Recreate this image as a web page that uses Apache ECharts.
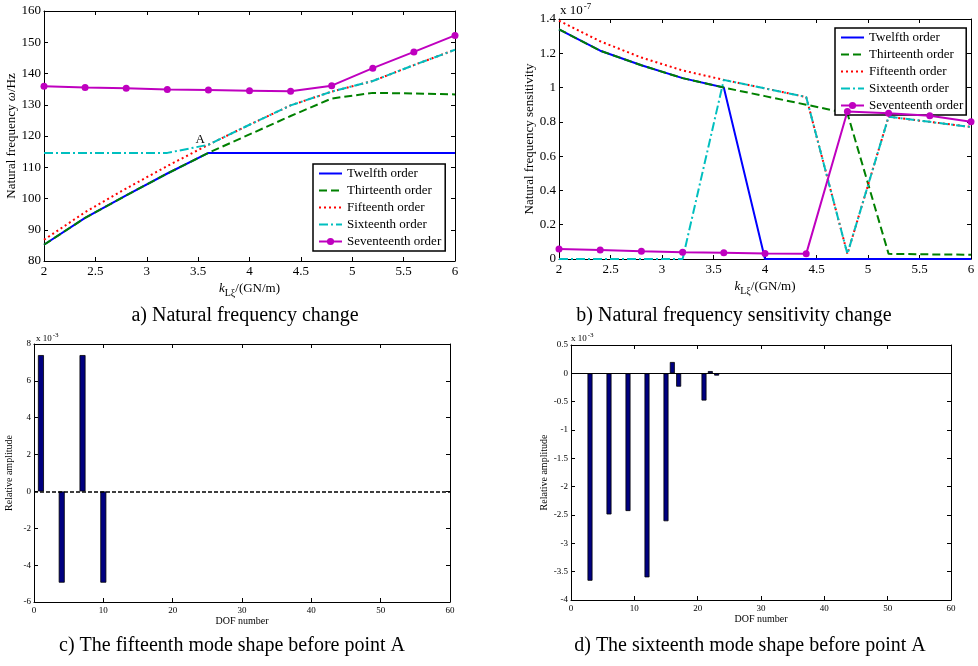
<!DOCTYPE html>
<html>
<head>
<meta charset="utf-8">
<script src="https://cdn.jsdelivr.net/npm/echarts@6/dist/echarts.min.js"></script>
<style>
  html, body { margin: 0; padding: 0; background: #fff; }
  #main { width: 978px; height: 666px; }
</style>
</head>
<body>
<div id="main"></div>
<script>
// stiffness k (GN/m), shared by charts a and b
var kValues = [2, 2.4, 2.8, 3.2, 3.6, 4, 4.4, 4.8, 5.2, 5.6, 6];

// a) natural frequency (Hz)
var freq12 = [85.2, 93.8, 101.0, 108.0, 114.6, 114.6, 114.6, 114.6, 114.6, 114.6, 114.6];
var freq13 = [85.2, 93.8, 101.0, 108.0, 114.6, 120.5, 126.4, 132.0, 133.8, 133.6, 133.3];
var freq15 = [86.8, 95.6, 103.2, 110.4, 117.2, 123.6, 129.8, 134.2, 137.6, 142.7, 147.6];
var freq16 = [114.6, 114.6, 114.6, 114.6, 117.2, 123.6, 129.8, 134.2, 137.6, 142.7, 147.6];
var freq17 = [135.9, 135.5, 135.3, 134.9, 134.7, 134.5, 134.3, 136.1, 141.7, 146.9, 152.2];

// b) natural frequency sensitivity (x 1e-7)
var sens12 = [1.34, 1.215, 1.13, 1.055, 1.0, 0, 0, 0, 0, 0, 0];
var sens13 = [1.34, 1.215, 1.13, 1.055, 1.0, 0.95, 0.9, 0.85, 0.03, 0.027, 0.025];
var sens15 = [1.39, 1.27, 1.175, 1.1, 1.045, 0.995, 0.945, 0.03, 0.83, 0.8, 0.77];
var sens16 = [0, 0, 0, 0, 1.045, 0.995, 0.945, 0.03, 0.83, 0.8, 0.77];
var sens17 = [0.058, 0.052, 0.045, 0.04, 0.036, 0.032, 0.03, 0.86, 0.85, 0.835, 0.8];

// c) fifteenth mode shape (x 1e-3)
var dofC = [1, 4, 7, 10];
var ampC = [7.4, -4.95, 7.4, -4.95];

// d) sixteenth mode shape (x 1e-3)
var dofD = [3, 6, 9, 12, 15, 16, 17, 21, 22, 23];
var ampD = [-3.66, -2.49, -2.43, -3.6, -2.61, 0.2, -0.235, -0.48, 0.04, -0.04];

var orderNames = ["Twelfth order", "Thirteenth order", "Fifteenth order", "Sixteenth order", "Seventeenth order"];

var SERIF = "'Liberation Serif', 'DejaVu Serif', serif";

function pairs(xs, ys) {
  return xs.map(function (x, i) { return [x, ys[i]]; });
}

var lineStyles = [
  { color: "#0000ff", width: 2, type: "solid" },
  { color: "#008000", width: 2, type: [8, 4] },
  { color: "#ff0000", width: 2, type: [2, 3] },
  { color: "#00bfbf", width: 2, type: [9, 3, 2, 3] },
  { color: "#bf00bf", width: 2, type: "solid" }
];

function orderSeries(gridIdx, lists, extra) {
  return lists.map(function (ys, i) {
    var s = {
      name: orderNames[i],
      type: "line",
      xAxisIndex: gridIdx,
      yAxisIndex: gridIdx,
      data: pairs(kValues, ys),
      symbol: i === 4 ? "circle" : "none",
      symbolSize: 7,
      itemStyle: { color: lineStyles[i].color },
      lineStyle: lineStyles[i],
      animation: false,
      z: 2 + i
    };
    if (extra && extra[i]) Object.assign(s, extra[i]);
    return s;
  });
}

function bottomX(gridIdx, min, max, interval, fontSize, name, nameGap, nameStyle) {
  return {
    type: "value", gridIndex: gridIdx, min: min, max: max, interval: interval,
    position: "bottom",
    axisLine: { onZero: false, lineStyle: { color: "#000", width: 1 } },
    axisTick: { inside: true, length: 4, lineStyle: { color: "#000" } },
    axisLabel: { color: "#000", fontFamily: SERIF, fontSize: fontSize, margin: 4 },
    splitLine: { show: false },
    name: name, nameLocation: "middle", nameGap: nameGap,
    nameTextStyle: nameStyle
  };
}
function topX(gridIdx, min, max, interval) {
  return {
    type: "value", gridIndex: gridIdx, min: min, max: max, interval: interval,
    position: "top",
    axisLine: { onZero: false, lineStyle: { color: "#000", width: 1 } },
    axisTick: { inside: true, length: 4, lineStyle: { color: "#000" } },
    axisLabel: { show: false },
    splitLine: { show: false }
  };
}
function leftY(gridIdx, min, max, interval, fontSize, name, nameGap, nameStyle) {
  return {
    type: "value", gridIndex: gridIdx, min: min, max: max, interval: interval,
    position: "left",
    axisLine: { show: true, onZero: false, lineStyle: { color: "#000", width: 1 } },
    axisTick: { show: true, inside: true, length: 4, lineStyle: { color: "#000" } },
    axisLabel: { color: "#000", fontFamily: SERIF, fontSize: fontSize, margin: 3 },
    splitLine: { show: false },
    name: name, nameLocation: "middle", nameGap: nameGap, nameRotate: 90,
    nameTextStyle: nameStyle
  };
}
function rightY(gridIdx, min, max, interval) {
  return {
    type: "value", gridIndex: gridIdx, min: min, max: max, interval: interval,
    position: "right",
    axisLine: { show: true, onZero: false, lineStyle: { color: "#000", width: 1 } },
    axisTick: { show: true, inside: true, length: 4, lineStyle: { color: "#000" } },
    axisLabel: { show: false },
    splitLine: { show: false }
  };
}

var kName = {
  fontFamily: SERIF, fontSize: 13, color: "#000",
  rich: {
    i: { fontFamily: SERIF, fontSize: 13, fontStyle: "italic", color: "#000" },
    sub: { fontFamily: SERIF, fontSize: 10, color: "#000", verticalAlign: "bottom", padding: [8, 0, 0, 0] },
    n: { fontFamily: SERIF, fontSize: 13, color: "#000" }
  }
};
var kLabel = "{i|k}{sub|Lξ}{n|/(GN/m)}";

// only the seventeenth order keeps its marker in the legend
var legendData = orderNames.map(function (n, i) {
  return i === 4 ? { name: n } : { name: n, itemStyle: { color: "rgba(0,0,0,0)", borderWidth: 0 } };
});

var legendBase = {
  orient: "vertical",
  backgroundColor: "#fff",
  borderColor: "#000",
  borderWidth: 1.5,
  borderRadius: 0,
  itemWidth: 23,
  itemHeight: 9,
  itemGap: 4,
  textStyle: { fontFamily: SERIF, fontSize: 13, color: "#000" },
  data: legendData,
  selectedMode: false
};

var chart = echarts.init(document.getElementById("main"));

var option = {
  backgroundColor: "#fff",
  animation: false,
  grid: [
    { left: 44, top: 11, width: 411, height: 250 },
    { left: 559, top: 19, width: 412, height: 240 },
    { left: 34, top: 344, width: 416, height: 258 },
    { left: 571, top: 345, width: 380, height: 255 }
  ],
  xAxis: [
    bottomX(0, 2, 6, 0.5, 13, kLabel, 19, kName),
    bottomX(1, 2, 6, 0.5, 13, kLabel, 19, kName),
    bottomX(2, 0, 60, 10, 9, "DOF number", 12, { fontFamily: SERIF, fontSize: 10, color: "#000" }),
    bottomX(3, 0, 60, 10, 9, "DOF number", 11, { fontFamily: SERIF, fontSize: 10, color: "#000" }),
    topX(0, 2, 6, 0.5),
    topX(1, 2, 6, 0.5),
    topX(2, 0, 60, 10),
    topX(3, 0, 60, 10)
  ],
  yAxis: [
    leftY(0, 80, 160, 10, 13, "Natural frequency {w|ω}/Hz", 25, {
      fontFamily: SERIF, fontSize: 13, color: "#000",
      rich: { w: { fontFamily: SERIF, fontSize: 13, fontStyle: "italic", color: "#000" } }
    }),
    leftY(1, 0, 1.4, 0.2, 13, "Natural frequency sensitivity", 22, { fontFamily: SERIF, fontSize: 13, color: "#000" }),
    leftY(2, -6, 8, 2, 9, "Relative amplitude", 20, { fontFamily: SERIF, fontSize: 10, color: "#000" }),
    leftY(3, -4, 0.5, 0.5, 9, "Relative amplitude", 22, { fontFamily: SERIF, fontSize: 10, color: "#000" }),
    rightY(0, 80, 160, 10),
    rightY(1, 0, 1.4, 0.2),
    rightY(2, -6, 8, 2),
    rightY(3, -4, 0.5, 0.5)
  ],
  legend: [
    Object.assign({}, legendBase, { left: 313, top: 164, padding: [3, 4, 3, 5] }),
    Object.assign({}, legendBase, { left: 835, top: 28, padding: [3, 3, 3, 5] })
  ],
  series: [].concat(
    orderSeries(0, [freq12, freq13, freq15, freq16, freq17], {
      3: {
        markPoint: {
          symbol: "circle",
          symbolSize: 0,
          data: [{ coord: [3.52, 118.8], value: "A" }],
          label: { show: true, position: "inside", formatter: "A", fontFamily: SERIF, fontSize: 13, color: "#000" }
        }
      }
    }),
    orderSeries(1, [sens12, sens13, sens15, sens16, sens17]),
    [
      {
        type: "bar",
        xAxisIndex: 2, yAxisIndex: 2,
        data: pairs(dofC, ampC),
        barWidth: 6,
        itemStyle: { color: "#000080", borderColor: "#000", borderWidth: 0.8 },
        markLine: {
          symbol: "none",
          silent: true,
          label: { show: false },
          lineStyle: { color: "#000", width: 1.5, type: [4, 2] },
          data: [{ yAxis: 0 }]
        }
      },
      {
        type: "bar",
        xAxisIndex: 3, yAxisIndex: 3,
        data: pairs(dofD, ampD),
        barWidth: 5,
        itemStyle: { color: "#000080", borderColor: "#000", borderWidth: 0.8 },
        markLine: {
          symbol: "none",
          silent: true,
          label: { show: false },
          lineStyle: { color: "#000", width: 1, type: "solid" },
          data: [{ yAxis: 0 }]
        }
      }
    ]
  ),
  graphic: [
    {
      type: "text", left: 560, top: 2,
      style: {
        text: "{a|x 10}{b|-7}",
        rich: {
          a: { fontFamily: SERIF, fontSize: 13, fill: "#000" },
          b: { fontFamily: SERIF, fontSize: 9, fill: "#000", verticalAlign: "top", padding: [0, 0, 8, 1] }
        }
      }
    },
    {
      type: "text", left: 36, top: 332,
      style: {
        text: "{a|x 10}{b|-3}",
        rich: {
          a: { fontFamily: SERIF, fontSize: 9, fill: "#000" },
          b: { fontFamily: SERIF, fontSize: 7, fill: "#000", verticalAlign: "top", padding: [0, 0, 6, 1] }
        }
      }
    },
    {
      type: "text", left: 571, top: 332,
      style: {
        text: "{a|x 10}{b|-3}",
        rich: {
          a: { fontFamily: SERIF, fontSize: 9, fill: "#000" },
          b: { fontFamily: SERIF, fontSize: 7, fill: "#000", verticalAlign: "top", padding: [0, 0, 6, 1] }
        }
      }
    },
    {
      type: "text", x: 245, y: 316,
      style: { text: "a) Natural frequency change", font: "20px " + SERIF, fill: "#000", align: "center", verticalAlign: "middle" }
    },
    {
      type: "text", x: 734, y: 316,
      style: { text: "b) Natural frequency sensitivity change", font: "20px " + SERIF, fill: "#000", align: "center", verticalAlign: "middle" }
    },
    {
      type: "text", x: 232, y: 646,
      style: { text: "c) The fifteenth mode shape before point A", font: "20px " + SERIF, fill: "#000", align: "center", verticalAlign: "middle" }
    },
    {
      type: "text", x: 750, y: 646,
      style: { text: "d) The sixteenth mode shape before point A", font: "20px " + SERIF, fill: "#000", align: "center", verticalAlign: "middle" }
    }
  ]
};

chart.setOption(option);
</script>
</body>
</html>
